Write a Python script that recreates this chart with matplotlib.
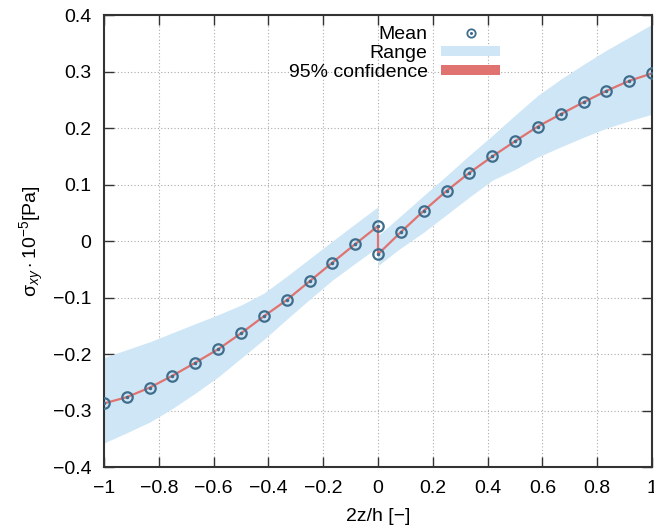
import matplotlib
matplotlib.use("Agg")
import matplotlib.pyplot as plt
from matplotlib.patches import Patch
from matplotlib.lines import Line2D
from matplotlib.ticker import MultipleLocator, FuncFormatter

plt.rcParams['font.family'] = ['Liberation Sans', 'DejaVu Sans']
plt.rcParams['mathtext.fontset'] = 'custom'
plt.rcParams['mathtext.rm'] = 'Liberation Sans'
plt.rcParams['mathtext.it'] = 'Liberation Sans:italic'

# lower half (2z/h <= 0) and upper half (2z/h >= 0)
z_lower = [-1.0, -0.917, -0.833, -0.75, -0.667, -0.583, -0.5, -0.417, -0.333, -0.25, -0.167, -0.083, 0.0]
mean_lower = [-0.287, -0.276, -0.259, -0.238, -0.215, -0.191, -0.163, -0.133, -0.104, -0.071, -0.038, -0.005, 0.027]
range_lower_hi = [-0.206, -0.192, -0.178, -0.162, -0.146, -0.130, -0.113, -0.092, -0.062, -0.031, 0.000, 0.031, 0.061]
range_lower_lo = [-0.357, -0.339, -0.320, -0.296, -0.269, -0.240, -0.207, -0.174, -0.138, -0.103, -0.069, -0.039, -0.010]

z_upper = [0.0, 0.083, 0.167, 0.25, 0.333, 0.417, 0.5, 0.583, 0.667, 0.75, 0.833, 0.917, 1.0]
mean_upper = [-0.023, 0.016, 0.054, 0.089, 0.121, 0.150, 0.177, 0.203, 0.225, 0.246, 0.266, 0.284, 0.297]
range_upper_hi = [0.010, 0.045, 0.081, 0.116, 0.152, 0.187, 0.223, 0.258, 0.287, 0.313, 0.338, 0.361, 0.384]
range_upper_lo = [-0.043, -0.012, 0.016, 0.047, 0.078, 0.108, 0.127, 0.149, 0.167, 0.184, 0.200, 0.213, 0.225]

band_color = '#cfe6f6'
conf_color = '#e07370'
mean_color = '#3f6e8c'

fig = plt.figure(figsize=(6.54, 5.25), dpi=100)
ax = fig.add_axes([0.159, 0.110, 0.838, 0.861])

for z, lo, hi in [(z_lower, range_lower_lo, range_lower_hi), (z_upper, range_upper_lo, range_upper_hi)]:
    ax.fill_between(z, lo, hi, color=band_color, lw=0, zorder=1)

z_all = z_lower + z_upper
mean_all = mean_lower + mean_upper
ax.plot(z_all, mean_all, color=conf_color, lw=1.6, zorder=2)
ax.plot(z_all, mean_all, ls='none', marker='o', ms=7.5, mfc='none', mec=mean_color, mew=1.6, zorder=3)
ax.plot(z_all, mean_all, ls='none', marker='o', ms=1.5, mfc=mean_color, mec=mean_color, zorder=3)

ax.set_xlim(-1, 1)
ax.set_ylim(-0.4, 0.4)
ax.xaxis.set_major_locator(MultipleLocator(0.2))
ax.yaxis.set_major_locator(MultipleLocator(0.1))
fmt = FuncFormatter(lambda v, p: ('%g' % round(v, 2)).replace('-', '\u2212'))
ax.xaxis.set_major_formatter(fmt)
ax.yaxis.set_major_formatter(fmt)
ax.tick_params(direction='in', length=7, width=1, top=True, right=True, labelsize=14, pad=9, color='#333333')
ax.grid(True, ls=(0, (1, 2)), color='#aaaaaa', lw=0.8)
ax.set_axisbelow(True)
for s in ax.spines.values():
    s.set_linewidth(1.5)
    s.set_color('#333333')

ax.set_xlabel('2z/h [\u2212]', fontsize=14, labelpad=8)
ax.set_ylabel(r'$\mathrm{\sigma}_{xy}\cdot10^{-5}$[Pa]', fontsize=14)
ax.yaxis.set_label_coords(-0.105, 0.5)

mean_handle = (Line2D([], [], ls='none', marker='o', ms=6, mfc='none', mec=mean_color, mew=1.3),
               Line2D([], [], ls='none', marker='o', ms=1.2, mfc=mean_color, mec=mean_color))
handles = [mean_handle, Patch(color=band_color, lw=0), Patch(color=conf_color, lw=0)]
labels = ['Mean', 'Range', '95% confidence']
ax.legend(handles, labels, loc='upper right', bbox_to_anchor=(0.722, 0.976), frameon=False,
          markerfirst=False, fontsize=14, handlelength=3.0, handleheight=0.45, handletextpad=0.7,
          labelspacing=0.1, borderpad=0, borderaxespad=0)

fig.savefig('out.png', dpi=100)
